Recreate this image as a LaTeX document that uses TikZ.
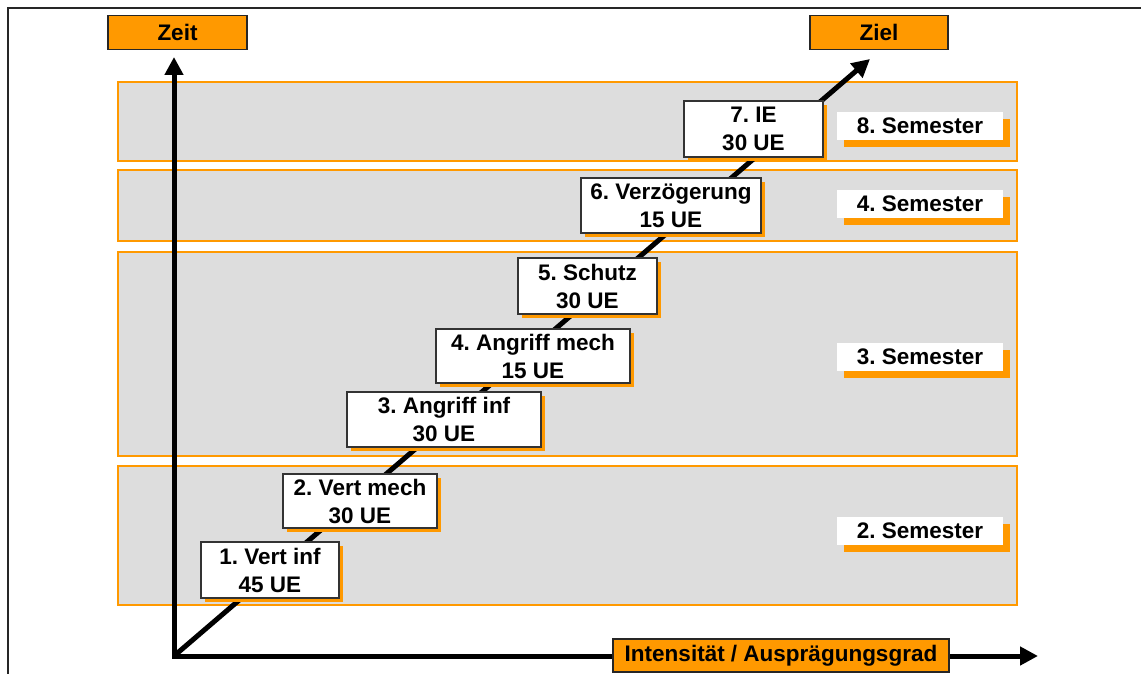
\documentclass[tikz,border=0pt]{standalone}
\usepackage{fontspec}
\setmainfont{Liberation Sans}
\usetikzlibrary{arrows.meta,shadows}
\frenchspacing
\definecolor{accent}{HTML}{FF9900}
\definecolor{bandgray}{HTML}{DDDDDD}
\tikzset{
  lbl/.style={font=\bfseries\fontsize{22.5pt}{28pt}\selectfont, text=black},
  axisbox/.style={lbl, draw=black!85, line width=1.2pt, fill=accent, inner sep=0pt, minimum height=34pt},
  stepbox/.style={lbl, draw=black!80, line width=1.2pt, fill=white, align=center, inner sep=0pt,
    drop shadow={shadow xshift=4pt, shadow yshift=-4pt, fill=accent, opacity=1}},
  semlabel/.style={lbl, fill=white, minimum width=166pt, minimum height=28pt, inner sep=0pt,
    drop shadow={shadow xshift=7pt, shadow yshift=-7pt, fill=accent, opacity=1}},
  bandbox/.style={fill=bandgray, draw=accent, line width=1.2pt, minimum width=899pt, inner sep=0pt},
  tiphead/.style={-{Triangle[width=18pt,length=18pt]}},
}
\begin{document}
\begin{tikzpicture}[x=1pt,y=1pt]
  \useasboundingbox (0,0) rectangle (1141,-674);
  % outer frame (top and left edges)
  \draw[line width=2pt, black!85] (8,-674) -- (8,-8) -- (1141,-8);

  % semester bands
  \node[bandbox, minimum height=79pt]  (b8) at (567.5,-121.5) {};
  \node[bandbox, minimum height=71pt]  (b4) at (567.5,-205.5) {};
  \node[bandbox, minimum height=204pt] (b3) at (567.5,-354) {};
  \node[bandbox, minimum height=139pt] (b2) at (567.5,-535.5) {};

  % axes
  \coordinate (o) at (174,-656);
  \coordinate (ytip) at (174,-57);
  \coordinate (xtip) at (1038,-656);
  \coordinate (goal) at (870,-59);
  \draw[line width=5pt, line join=miter, {Triangle[width=18pt,length=18pt]}-{Triangle[width=18pt,length=18pt]}]
    (ytip) -- (o) -- (xtip);
  \draw[line width=5pt, tiphead] (o) -- (goal);

  % steps
  \node[stepbox, minimum width=138pt, minimum height=56pt] (s1) at (270,-570)   {1. Vert inf\\45 UE};
  \node[stepbox, minimum width=154pt, minimum height=54pt] (s2) at (360,-501)   {2. Vert mech\\30 UE};
  \node[stepbox, minimum width=194pt, minimum height=55pt] (s3) at (444,-419.5) {3. Angriff inf\\30 UE};
  \node[stepbox, minimum width=194pt, minimum height=54pt] (s4) at (533,-356)   {4. Angriff mech\\15 UE};
  \node[stepbox, minimum width=139pt, minimum height=56pt] (s5) at (587.5,-286) {5. Schutz\\30 UE};
  \node[stepbox, minimum width=180pt, minimum height=55pt] (s6) at (671,-205.5) {6. Verzögerung\\15 UE};
  \node[stepbox, minimum width=139pt, minimum height=56pt] (s7) at (753.5,-129) {7. IE\\30 UE};

  % semester labels
  \node[semlabel] (l8) at (920,-126) {8. Semester};
  \node[semlabel] (l4) at (920,-204) {4. Semester};
  \node[semlabel] (l3) at (920,-357) {3. Semester};
  \node[semlabel] (l2) at (920,-531) {2. Semester};

  % axis captions
  \node[axisbox, minimum width=139pt] (zeit) at (177.5,-32.5) {Zeit};
  \node[axisbox, minimum width=138pt] (ziel) at (879,-32.5) {Ziel};
  \node[axisbox, minimum width=336pt, minimum height=33pt] (int) at (781,-655.5) {Intensität / Ausprägungsgrad};
\end{tikzpicture}
\end{document}
